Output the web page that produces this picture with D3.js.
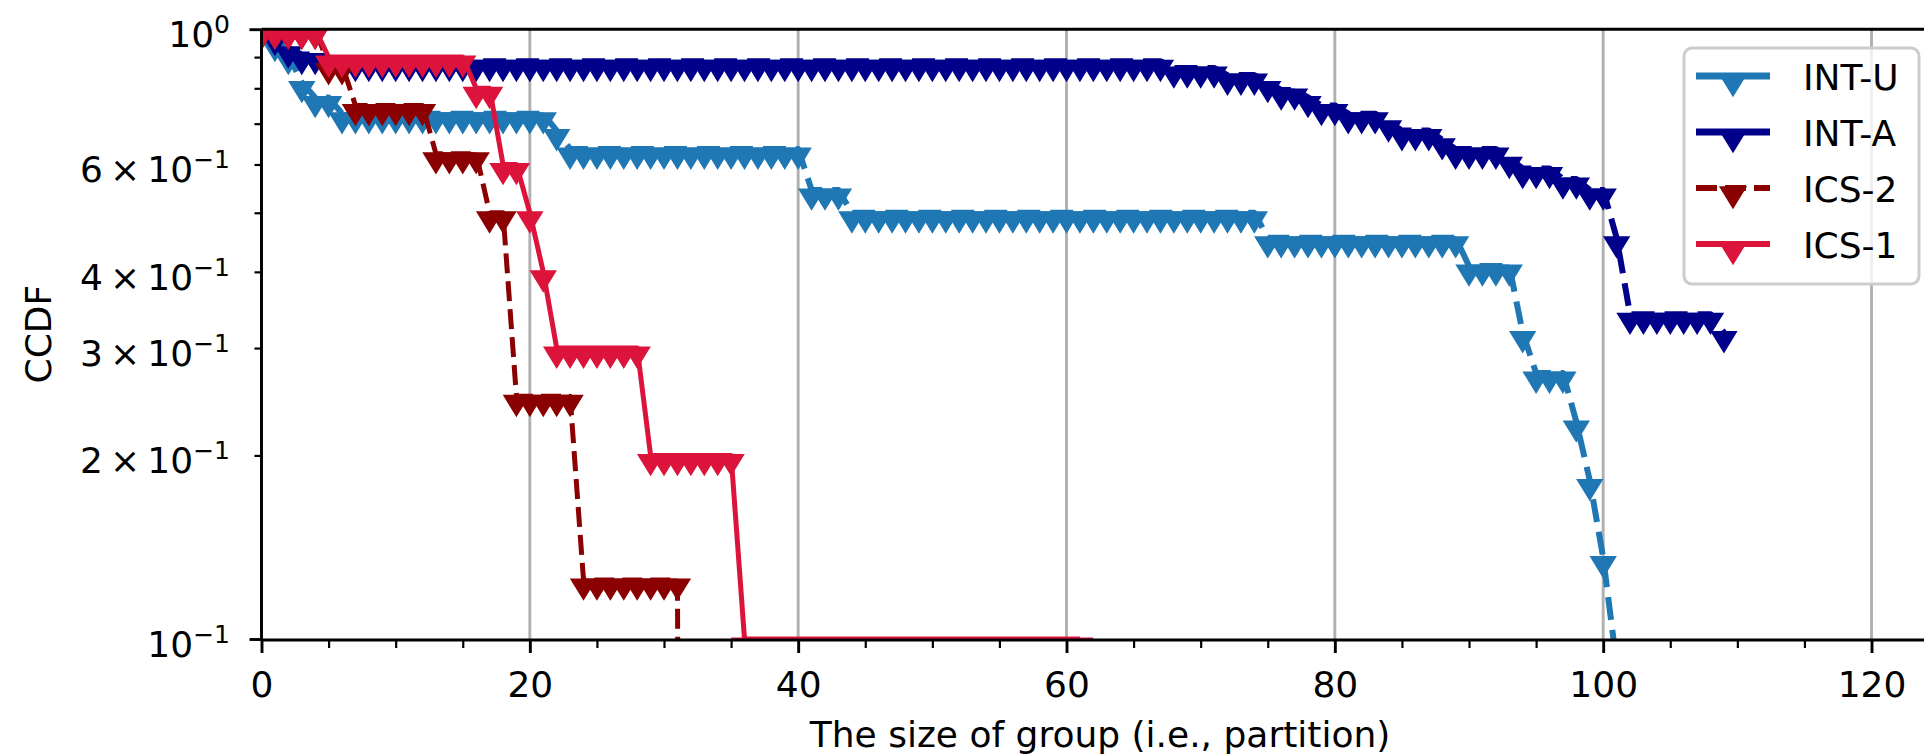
<!DOCTYPE html>
<html>
<head>
<meta charset="utf-8">
<script src="https://cdn.jsdelivr.net/npm/d3@7"></script>
<style>
  body { margin: 0; background: #fff; }
  svg { display: block; }
</style>
</head>
<body>
<svg id="chart"></svg>
<script>
// CCDF values, one per group size x = 0, 1, 2, ...
var intU = [1.0, 0.955, 0.909, 0.818, 0.773, 0.773,
  0.727, 0.727, 0.727, 0.727, 0.727, 0.727, 0.727, 0.727, 0.727, 0.727, 0.727, 0.727, 0.727, 0.727, 0.727, 0.727,
  0.682,
  0.636, 0.636, 0.636, 0.636, 0.636, 0.636, 0.636, 0.636, 0.636, 0.636, 0.636, 0.636, 0.636, 0.636, 0.636, 0.636, 0.636, 0.636,
  0.545, 0.545, 0.545,
  0.5, 0.5, 0.5, 0.5, 0.5, 0.5, 0.5, 0.5, 0.5, 0.5, 0.5, 0.5, 0.5, 0.5, 0.5, 0.5, 0.5, 0.5, 0.5, 0.5, 0.5, 0.5, 0.5, 0.5, 0.5, 0.5, 0.5, 0.5, 0.5, 0.5, 0.5,
  0.455, 0.455, 0.455, 0.455, 0.455, 0.455, 0.455, 0.455, 0.455, 0.455, 0.455, 0.455, 0.455, 0.455, 0.455,
  0.409, 0.409, 0.409, 0.409,
  0.318, 0.273, 0.273, 0.273, 0.227, 0.182, 0.136, 0.091, 0.045]

var intA = [1.0, 0.977, 0.932, 0.909, 0.909,
  0.886, 0.886, 0.886, 0.886, 0.886, 0.886, 0.886, 0.886, 0.886, 0.886, 0.886, 0.886, 0.886, 0.886, 0.886, 0.886,
  0.886, 0.886, 0.886, 0.886, 0.886, 0.886, 0.886, 0.886, 0.886, 0.886, 0.886, 0.886, 0.886, 0.886, 0.886, 0.886,
  0.886, 0.886, 0.886, 0.886, 0.886, 0.886, 0.886, 0.886, 0.886, 0.886, 0.886, 0.886, 0.886, 0.886, 0.886, 0.886,
  0.886, 0.886, 0.886, 0.886, 0.886, 0.886, 0.886, 0.886, 0.886, 0.886, 0.886, 0.886, 0.886, 0.886, 0.886,
  0.864, 0.864, 0.864, 0.864,
  0.841, 0.841, 0.841,
  0.818, 0.795, 0.795, 0.773, 0.75, 0.75,
  0.727, 0.727, 0.727, 0.705, 0.682, 0.682, 0.682, 0.659,
  0.636, 0.636, 0.636, 0.636, 0.614, 0.591, 0.591, 0.591, 0.568, 0.568, 0.545, 0.545,
  0.455,
  0.341, 0.341, 0.341, 0.341, 0.341, 0.341, 0.341,
  0.318]

var ics2 = [1.0, 1.0, 1.0, 1.0, 1.0,
  0.875, 0.875,
  0.75, 0.75, 0.75, 0.75, 0.75, 0.75,
  0.625, 0.625, 0.625, 0.625,
  0.5, 0.5,
  0.25, 0.25, 0.25, 0.25, 0.25,
  0.125, 0.125, 0.125, 0.125, 0.125, 0.125, 0.125, 0.125,
  0]

var ics1 = [1.0, 1.0, 1.0, 1.0, 1.0,
  0.9, 0.9, 0.9, 0.9, 0.9, 0.9, 0.9, 0.9, 0.9, 0.9, 0.9,
  0.8, 0.8, 0.6, 0.6, 0.5, 0.4,
  0.3, 0.3, 0.3, 0.3, 0.3, 0.3, 0.3,
  0.2, 0.2, 0.2, 0.2, 0.2, 0.2, 0.2,
  0.1, 0.1, 0.1, 0.1, 0.1, 0.1, 0.1, 0.1, 0.1, 0.1, 0.1, 0.1, 0.1,
  0.1, 0.1, 0.1, 0.1, 0.1, 0.1, 0.1, 0.1, 0.1, 0.1, 0.1, 0.1, 0.1]

var seriesNames = ['INT-U', 'INT-A', 'ICS-2', 'ICS-1']
var xMajorTicks = [0, 20, 40, 60, 80, 100, 120]
var xMinorTicks = [5, 10, 15, 25, 30, 35, 45, 50, 55, 65, 70, 75, 85, 90, 95, 105, 110, 115, 125]
var yMajorTicks = [1, 0.1]
var yMinorTicks = [0.2, 0.3, 0.4, 0.5, 0.6, 0.7, 0.8, 0.9]
// mantissa / exponent of the labelled y ticks
var yTickLabels = [
  { v: 1, base: '10', sup: '0' },
  { v: 0.6, base: '6\u2009\u00d7\u200910', sup: '\u22121' },
  { v: 0.4, base: '4\u2009\u00d7\u200910', sup: '\u22121' },
  { v: 0.3, base: '3\u2009\u00d7\u200910', sup: '\u22121' },
  { v: 0.2, base: '2\u2009\u00d7\u200910', sup: '\u22121' },
  { v: 0.1, base: '10', sup: '\u22121' }
]

var W = 1924, H = 754
var plotL = 261.5, plotR = 1938.6, plotT = 29.2, plotB = 639
var font = '"DejaVu Sans", "Liberation Sans", sans-serif'

var svg = d3.select('#chart').attr('width', W).attr('height', H)
var x = d3.scaleLinear().domain([0, 125]).range([plotL, plotR])
var y = d3.scaleLog().domain([0.1, 1]).range([plotB, plotT])
function yPos (v) { return v > 0 ? y(v) : plotB + 3000 } // like mpl nonpositive='clip'

var series = [
  { name: seriesNames[0], values: intU, color: '#1f77b4', width: 6, dash: '23,10' },
  { name: seriesNames[1], values: intA, color: '#00008b', width: 6, dash: '23,10' },
  { name: seriesNames[2], values: ics2, color: '#8b0000', width: 5, dash: '20,8' },
  { name: seriesNames[3], values: ics1, color: '#dc143c', width: 5, dash: null }
]

// triangle hanging under its point (flat top on the value)
function tri (cx, cy) {
  return 'M' + (cx - 11) + ',' + cy + 'L' + (cx + 11) + ',' + cy + 'L' + cx + ',' + (cy + 18) + 'Z'
}

svg.append('defs').append('clipPath').attr('id', 'plotClip')
  .append('rect').attr('x', plotL).attr('y', plotT).attr('width', plotR - plotL).attr('height', plotB - plotT)

// vertical grid
svg.append('g').selectAll('line').data(xMajorTicks).enter().append('line')
  .attr('x1', function (d) { return x(d) }).attr('x2', function (d) { return x(d) })
  .attr('y1', plotT).attr('y2', plotB)
  .attr('stroke', '#b0b0b0').attr('stroke-width', 2.9)

var plot = svg.append('g').attr('clip-path', 'url(#plotClip)')
var line = d3.line()
  .x(function (d, i) { return x(i) })
  .y(function (d) { return yPos(d) })

series.forEach(function (s) {
  plot.append('path').datum(s.values)
    .attr('d', line)
    .attr('fill', 'none')
    .attr('stroke', s.color)
    .attr('stroke-width', s.width)
    .attr('stroke-dasharray', s.dash)
    .attr('stroke-linejoin', 'round')
  plot.append('g').selectAll('path').data(s.values).enter().append('path')
    .attr('d', function (d, i) { return tri(x(i), yPos(d)) })
    .attr('fill', s.color)
    .attr('stroke', s.color)
    .attr('stroke-width', 3)
    .attr('stroke-linejoin', 'miter')
})

// spines
var spines = svg.append('g').attr('stroke', '#000').attr('stroke-width', 2.9)
spines.append('line').attr('x1', plotL).attr('x2', plotL).attr('y1', plotT).attr('y2', plotB + 1)
spines.append('line').attr('x1', plotL).attr('x2', plotR).attr('y1', plotT).attr('y2', plotT)
spines.append('line').attr('x1', plotL).attr('x2', plotR).attr('y1', plotB + 1).attr('y2', plotB + 1)

// x axis
var xAxis = d3.axisBottom(x).tickValues(xMajorTicks).tickSize(13).tickPadding(18).tickSizeOuter(0)
var gx = svg.append('g').attr('transform', 'translate(0,' + (plotB + 1) + ')').call(xAxis)
gx.select('.domain').remove()
gx.attr('font-family', font).attr('font-size', 36)
gx.selectAll('line').attr('stroke', '#000').attr('stroke-width', 2.9)
gx.selectAll('text').attr('fill', '#000')

var gxm = svg.append('g').attr('transform', 'translate(0,' + (plotB + 1) + ')')
  .call(d3.axisBottom(x).tickValues(xMinorTicks).tickSize(8).tickFormat('').tickSizeOuter(0))
gxm.select('.domain').remove()
gxm.selectAll('line').attr('stroke', '#000').attr('stroke-width', 2.2)

// y axis
var gy = svg.append('g').attr('transform', 'translate(' + plotL + ',0)')
  .call(d3.axisLeft(y).tickValues(yMajorTicks).tickSize(12).tickFormat('').tickSizeOuter(0))
gy.select('.domain').remove()
gy.selectAll('line').attr('stroke', '#000').attr('stroke-width', 2.9)

var gym = svg.append('g').attr('transform', 'translate(' + plotL + ',0)')
  .call(d3.axisLeft(y).tickValues(yMinorTicks).tickSize(7).tickFormat('').tickSizeOuter(0))
gym.select('.domain').remove()
gym.selectAll('line').attr('stroke', '#000').attr('stroke-width', 2.2)

var yl = svg.append('g').attr('font-family', font).attr('fill', '#000')
  .selectAll('text').data(yTickLabels).enter().append('text')
  .attr('x', 230)
  .attr('y', function (d) { return y(d.v) + 18 })
  .attr('text-anchor', 'end')
yl.append('tspan').attr('font-size', 36).text(function (d) { return d.base })
yl.append('tspan').attr('font-size', 25).attr('dy', -14).text(function (d) { return d.sup })

// axis titles
svg.append('text')
  .attr('x', (plotL + plotR) / 2).attr('y', 747)
  .attr('text-anchor', 'middle')
  .attr('font-family', font).attr('font-size', 36).attr('fill', '#000')
  .text('The size of group (i.e., partition)')
svg.append('text')
  .attr('transform', 'translate(51,' + ((plotT + plotB) / 2) + ') rotate(-90)')
  .attr('text-anchor', 'middle')
  .attr('font-family', font).attr('font-size', 36).attr('fill', '#000')
  .text('CCDF')

// legend
var lg = svg.append('g')
lg.append('rect')
  .attr('x', 1684).attr('y', 48).attr('width', 235).attr('height', 236)
  .attr('rx', 8).attr('ry', 8)
  .attr('fill', '#fff').attr('fill-opacity', 0.8)
  .attr('stroke', '#cccccc').attr('stroke-width', 3)
var rows = lg.selectAll('g.row').data(series).enter().append('g')
  .attr('class', 'row')
  .attr('transform', function (d, i) { return 'translate(0,' + (76 + i * 56) + ')' })
rows.append('line')
  .attr('x1', 1696).attr('x2', 1770).attr('y1', 0).attr('y2', 0)
  .attr('stroke', function (d) { return d.color })
  .attr('stroke-width', function (d) { return d.width + 1 })
  .attr('stroke-dasharray', function (d) { return d.name === 'ICS-2' ? '21,8' : null })
rows.append('path')
  .attr('d', tri(1733, 0))
  .attr('fill', function (d) { return d.color })
  .attr('stroke', function (d) { return d.color })
  .attr('stroke-width', 3.5)
rows.append('text')
  .attr('x', 1803).attr('y', 14)
  .attr('font-family', font).attr('font-size', 36).attr('fill', '#000')
  .text(function (d) { return d.name })
</script>
</body>
</html>
